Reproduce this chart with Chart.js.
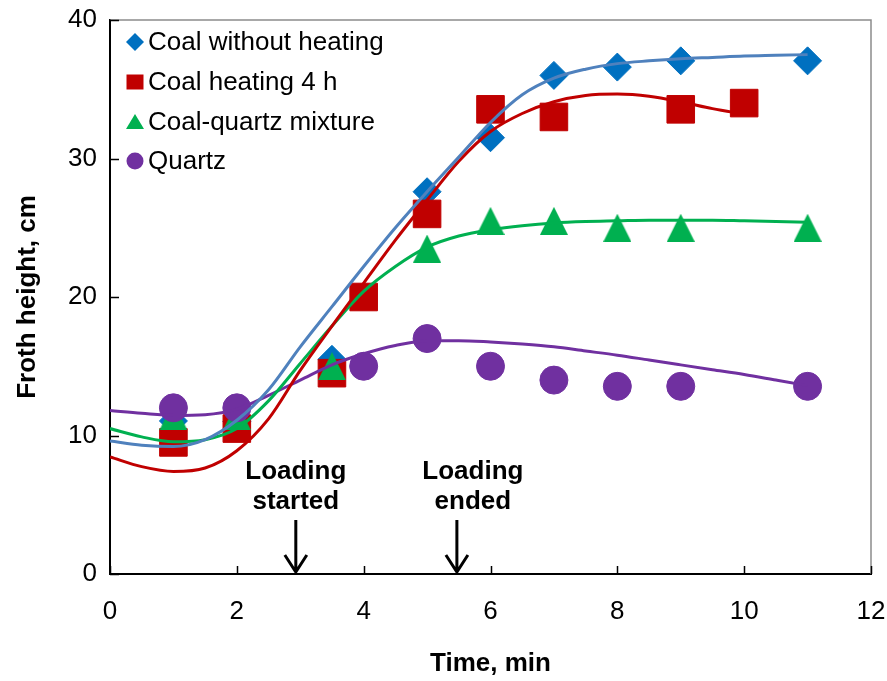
<!DOCTYPE html>
<html>
<head>
<meta charset="utf-8">
<script src="https://cdn.jsdelivr.net/npm/chart.js@4.4.1/dist/chart.umd.min.js"></script>
<style>
html,body{margin:0;padding:0;background:#fff;}
#wrap{width:887px;height:681px;position:relative;}
</style>
</head>
<body>
<div id="wrap"><canvas id="c" width="887" height="681"></canvas></div>
<script>
// ---------- data ----------
const seriesNames = ['Coal without heating', 'Coal heating 4 h', 'Coal-quartz mixture', 'Quartz'];

const timeCoal    = [1, 2, 3.5, 5, 6, 7, 8, 9, 11];
const coalWithout = [11.05, 11.0, 15.5, 27.6, 31.5, 36.0, 36.6, 37.05, 37.05];

const timeHeated  = [1, 2, 3.5, 4, 5, 6, 7, 9, 10];
const coalHeated  = [9.5, 10.5, 14.5, 20.0, 26.0, 33.55, 33.0, 33.55, 34.0];

const timeMixture = [1, 2, 3.5, 5, 6, 7, 8, 9, 11];
const coalQuartz  = [11.4, 11.4, 15.0, 23.5, 25.5, 25.5, 25.0, 25.0, 25.0];

const timeQuartz  = [1, 2, 4, 5, 6, 7, 8, 9, 11];
const quartz      = [12.0, 12.0, 15.0, 17.0, 15.0, 14.0, 13.55, 13.55, 13.55];

// fitted trend curves
const fitTime        = [0, 0.5, 1, 1.5, 2, 2.5, 3, 3.5, 4, 4.5, 5, 5.5, 6, 6.5, 7, 7.5, 8, 8.5, 9, 9.5, 10, 10.5, 11];
const fitCoalWithout = [9.6, 9.3, 9.2, 9.7, 11.1, 13.3, 16.4, 19.3, 22.2, 25.0, 27.6, 30.1, 32.6, 34.6, 35.8, 36.45, 36.85, 37.05, 37.2, 37.3, 37.4, 37.45, 37.5];
const fitCoalQuartz  = [10.5, 9.9, 9.55, 9.7, 10.5, 12.5, 15.2, 17.9, 20.4, 22.2, 23.6, 24.4, 24.85, 25.15, 25.35, 25.45, 25.5, 25.55, 25.55, 25.55, 25.5, 25.45, 25.4];
const fitQuartz      = [11.8, 11.6, 11.45, 11.5, 11.9, 12.9, 14.0, 15.1, 15.9, 16.5, 16.85, 16.85, 16.75, 16.6, 16.4, 16.1, 15.8, 15.45, 15.1, 14.75, 14.4, 14.0, 13.6];
const fitTimeHeated  = [0, 0.5, 1, 1.5, 2, 2.5, 3, 3.5, 4, 4.5, 5, 5.5, 6, 6.5, 7, 7.5, 8, 8.5, 9, 9.5, 10];
const fitCoalHeated  = [8.45, 7.75, 7.4, 7.65, 8.9, 11.2, 14.7, 17.9, 21.0, 24.1, 27.0, 29.8, 31.95, 33.25, 34.1, 34.55, 34.65, 34.5, 34.1, 33.6, 33.2];

// axis ranges / ticks
const xRange = [0, 12]; const xStep = 2;
const yRange = [0, 40]; const yStep = 10;
const xTitle = 'Time, min';
const yTitle = 'Froth height, cm';

// annotation arrows
const loadingTimes  = [2.93, 5.47];
const loadingLabels = [['Loading', 'started'], ['Loading', 'ended']];

// ---------- styling ----------
const FONT = "'Liberation Sans', Arial, Helvetica, sans-serif";
const colBlueMk = '#0070C0', colBlueLn = '#4F81BD';
const colRed = '#C00000', colGreen = '#00B050', colPurple = '#7030A0';

function pts(xs, ys) { return xs.map((x, i) => ({ x: x, y: ys[i] })); }

function triangleCanvas(size, color) {
  const c = document.createElement('canvas');
  c.width = size; c.height = size;
  const g = c.getContext('2d');
  g.fillStyle = color;
  g.beginPath();
  g.moveTo(size / 2, 0);
  g.lineTo(size, size);
  g.lineTo(0, size);
  g.closePath();
  g.fill();
  return c;
}
const triBig = triangleCanvas(28, colGreen);

const curveBase = { showLine: true, pointRadius: 0, pointHoverRadius: 0, borderWidth: 3, cubicInterpolationMode: 'monotone', fill: false };

const datasets = [
  Object.assign({ label: seriesNames[0] + ' fit', data: pts(fitTime, fitCoalWithout), borderColor: colBlueLn, order: 0 }, curveBase),
  Object.assign({ label: seriesNames[1] + ' fit', data: pts(fitTimeHeated, fitCoalHeated), borderColor: colRed, order: 1 }, curveBase),
  Object.assign({ label: seriesNames[2] + ' fit', data: pts(fitTime, fitCoalQuartz), borderColor: colGreen, order: 2 }, curveBase),
  Object.assign({ label: seriesNames[3] + ' fit', data: pts(fitTime, fitQuartz), borderColor: colPurple, order: 3 }, curveBase),
  { label: seriesNames[3], data: pts(timeQuartz, quartz), showLine: false, pointStyle: 'circle', pointRadius: 14, pointBorderWidth: 1,
    backgroundColor: colPurple, borderColor: colPurple, order: 4 },
  { label: seriesNames[2], data: pts(timeMixture, coalQuartz), showLine: false, pointStyle: triBig, pointRadius: 14,
    backgroundColor: colGreen, borderColor: colGreen, order: 5 },
  { label: seriesNames[1], data: pts(timeHeated, coalHeated), showLine: false, pointStyle: 'rect', pointRadius: 19.5, pointBorderWidth: 1,
    backgroundColor: colRed, borderColor: colRed, order: 6 },
  { label: seriesNames[0], data: pts(timeCoal, coalWithout), showLine: false, pointStyle: 'rectRot', pointRadius: 14, pointBorderWidth: 1,
    backgroundColor: colBlueMk, borderColor: colBlueMk, order: 7 }
];

const legendItems = [
  { text: seriesNames[0], shape: 'diamond', color: colBlueMk },
  { text: seriesNames[1], shape: 'square', color: colRed },
  { text: seriesNames[2], shape: 'triangle', color: colGreen },
  { text: seriesNames[3], shape: 'circle', color: colPurple }
];

function drawMarker(ctx, shape, x, y, color) {
  ctx.save();
  ctx.fillStyle = color;
  ctx.beginPath();
  if (shape === 'diamond') {
    ctx.moveTo(x - 9, y); ctx.lineTo(x, y - 9); ctx.lineTo(x + 9, y); ctx.lineTo(x, y + 9); ctx.closePath();
  } else if (shape === 'square') {
    ctx.rect(x - 8.5, y - 7.5, 17, 15);
  } else if (shape === 'triangle') {
    ctx.moveTo(x, y - 8); ctx.lineTo(x + 9, y + 7); ctx.lineTo(x - 9, y + 7); ctx.closePath();
  } else {
    ctx.arc(x, y, 8.5, 0, Math.PI * 2);
  }
  ctx.fill();
  ctx.restore();
}

const decorPlugin = {
  id: 'decor',
  beforeDatasetsDraw(chart) {
    const { ctx, chartArea: a } = chart;
    ctx.save();
    ctx.strokeStyle = '#8C8C8C';
    ctx.lineWidth = 1.5;
    ctx.beginPath();
    ctx.moveTo(a.left, a.top); ctx.lineTo(a.right, a.top); ctx.lineTo(a.right, a.bottom);
    ctx.stroke();
    ctx.restore();
  },
  afterDraw(chart) {
    const { ctx, chartArea: a, scales } = chart;
    const xs = scales.x, ys = scales.y;
    ctx.save();
    // inward tick marks
    ctx.strokeStyle = '#000';
    ctx.lineWidth = 1.5;
    ctx.beginPath();
    xs.ticks.forEach(t => {
      const px = Math.round(xs.getPixelForValue(t.value)) + 0.5;
      ctx.moveTo(px, a.bottom); ctx.lineTo(px, a.bottom - 8);
    });
    ys.ticks.forEach(t => {
      const py = Math.round(ys.getPixelForValue(t.value)) + 0.5;
      ctx.moveTo(a.left, py); ctx.lineTo(a.left + 9, py);
    });
    ctx.stroke();

    // loading annotations
    const textShift = [0, 16];
    ctx.fillStyle = '#000';
    ctx.font = 'bold 26px ' + FONT;
    ctx.textAlign = 'center';
    ctx.textBaseline = 'middle';
    loadingTimes.forEach((t, i) => {
      const px = xs.getPixelForValue(t);
      const tx = px + textShift[i];
      ctx.fillText(loadingLabels[i][0], tx, a.bottom - 102);
      ctx.fillText(loadingLabels[i][1], tx, a.bottom - 72);
      ctx.lineWidth = 3;
      ctx.lineCap = 'butt';
      ctx.beginPath();
      ctx.moveTo(px, a.bottom - 54); ctx.lineTo(px, a.bottom - 2);
      ctx.moveTo(px - 11, a.bottom - 19); ctx.lineTo(px, a.bottom - 2); ctx.lineTo(px + 11, a.bottom - 19);
      ctx.stroke();
    });

    // legend inside plot area
    ctx.font = '26px ' + FONT;
    ctx.textAlign = 'left';
    ctx.textBaseline = 'middle';
    const rowY = [42, 82, 122, 161];
    legendItems.forEach((it, i) => {
      const y = a.top + rowY[i] - 20;
      drawMarker(ctx, it.shape, a.left + 25, y, it.color);
      ctx.fillStyle = '#000';
      ctx.fillText(it.text, a.left + 38, y + 1);
    });
    ctx.restore();
  }
};

function noOverflow(s) {
  s.paddingLeft = 0; s.paddingRight = 0; s.paddingTop = 0; s.paddingBottom = 0;
}

Chart.defaults.font.family = FONT;
Chart.defaults.color = '#000';

new Chart(document.getElementById('c'), {
  type: 'scatter',
  data: { datasets: datasets },
  options: {
    responsive: false,
    animation: false,
    devicePixelRatio: 1,
    layout: { autoPadding: false, padding: { top: 20, right: 16, left: 0, bottom: 0 } },
    plugins: { legend: { display: false }, tooltip: { enabled: false } },
    scales: {
      x: {
        type: 'linear', min: xRange[0], max: xRange[1],
        ticks: { stepSize: xStep, color: '#000', font: { size: 26 }, padding: 22, maxRotation: 0 },
        grid: { display: true, drawOnChartArea: false, drawTicks: false },
        border: { display: true, color: '#000', width: 2 },
        title: { display: true, text: xTitle, color: '#000', font: { size: 26, weight: 'bold' }, padding: { top: 0, bottom: 2 } },
        afterFit(s) { s.height = 107; noOverflow(s); }
      },
      y: {
        type: 'linear', min: yRange[0], max: yRange[1],
        ticks: { stepSize: yStep, color: '#000', font: { size: 26 }, padding: 13 },
        grid: { display: true, drawOnChartArea: false, drawTicks: false },
        border: { display: true, color: '#000', width: 2 },
        title: { display: true, text: yTitle, color: '#000', font: { size: 26, weight: 'bold' }, padding: { top: 12, bottom: 0 } },
        afterFit(s) { s.width = 110; noOverflow(s); }
      }
    }
  },
  plugins: [decorPlugin]
});
</script>
</body>
</html>
